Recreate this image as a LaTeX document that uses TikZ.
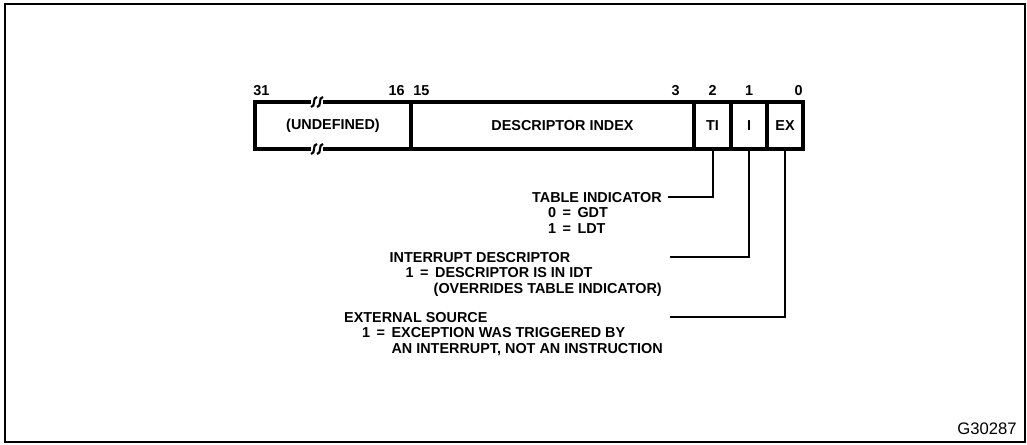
\documentclass[tikz,border=0pt]{standalone}
\usepackage{fontspec}
\setmainfont{Liberation Sans}
\usetikzlibrary{positioning}
\newcommand\eqsign{\hspace{0.45em}=\hspace{0.45em}}

\begin{document}
\begin{tikzpicture}[
  x=0.75pt, y=-0.75pt,
  every node/.style={font=\fontsize{10.8pt}{11.6pt}\selectfont\bfseries},
  field/.style={draw, line width=2.4pt, minimum height=35.25pt,
    inner sep=0pt, outer sep=0pt, anchor=west},
  bitno/.style={inner sep=0pt},
  leader/.style={draw, line width=1.5pt},
  lbl/.style={inner sep=0pt, align=left, anchor=north east},
  brk/.style={line width=1.6pt},
  tag/.style={font=\fontsize{12.5pt}{14pt}\selectfont, inner sep=0pt}
]
  \useasboundingbox (0,0) rectangle (1027,445);
  \draw[line width=1.8pt] (5,4) rectangle (1025,442);

  \node[field, minimum width=117pt] (undef) at (255,125.5) {(UNDEFINED)};
  \node[field, minimum width=212.25pt, right=0pt of undef] (index) {\hspace*{15pt}DESCRIPTOR INDEX};
  \node[field, minimum width=27.75pt, right=0pt of index] (ti) {TI};
  \node[field, minimum width=27pt, right=0pt of ti] (ibit) {I};
  \node[field, minimum width=27pt, right=0pt of ibit] (ex) {EX};

  \foreach \y in {102,149} {
    \fill[white] (311,\y-5) rectangle (323,\y+5);
    \draw[brk] (314-3,\y+5) .. controls (314+2,\y+5) and (314-2,\y-5) .. (314+3,\y-5);
    \draw[brk] (320-3,\y+5) .. controls (320+2,\y+5) and (320-2,\y-5) .. (320+3,\y-5);
  }

  \node[bitno, anchor=base west] (b31) at ([xshift=-1.5pt,yshift=4.5pt]undef.north west) {31};
  \node[bitno, anchor=base east] (b16) at ([xshift=-4.5pt,yshift=4.5pt]undef.north east) {16};
  \node[bitno, anchor=base west] (b15) at ([xshift=1.5pt,yshift=4.5pt]index.north west) {15};
  \node[bitno, anchor=base east] (b3) at ([xshift=-10.5pt,yshift=4.5pt]index.north east) {3};
  \node[bitno, anchor=base] (b2) at ([yshift=4.5pt]ti.north) {2};
  \node[bitno, anchor=base] (b1) at ([yshift=4.5pt]ibit.north) {1};
  \node[bitno, anchor=base east] (b0) at ([yshift=4.5pt]ex.north east) {0};

  \coordinate (tiend) at (668,197);
  \coordinate (iend) at (670,257);
  \coordinate (exend) at (670,317);
  \draw[leader] (ti.south) |- (tiend);
  \draw[leader] (ibit.south) |- (iend);
  \draw[leader] (ex.south) |- (exend);

  \node[lbl] (tilbl) at ([xshift=-4.5pt,yshift=3.9pt]tiend)
    {TABLE INDICATOR\\\hspace*{12pt}0\eqsign GDT\\\hspace*{12pt}1\eqsign LDT};
  \node[lbl] (ilbl) at ([xshift=-6pt,yshift=3.9pt]iend)
    {INTERRUPT DESCRIPTOR\\\hspace*{12pt}1\eqsign DESCRIPTOR IS IN IDT\\\hspace*{33pt}(OVERRIDES TABLE INDICATOR)};
  \node[lbl] (exlbl) at ([xshift=-5.25pt,yshift=3.9pt]exend)
    {EXTERNAL SOURCE\\\hspace*{13.5pt}1\eqsign EXCEPTION WAS TRIGGERED BY\\\hspace*{35.5pt}AN INTERRUPT, NOT AN INSTRUCTION};

  \node[tag, anchor=base east] (figid) at (1017,434.5) {G30287};
\end{tikzpicture}
\end{document}
